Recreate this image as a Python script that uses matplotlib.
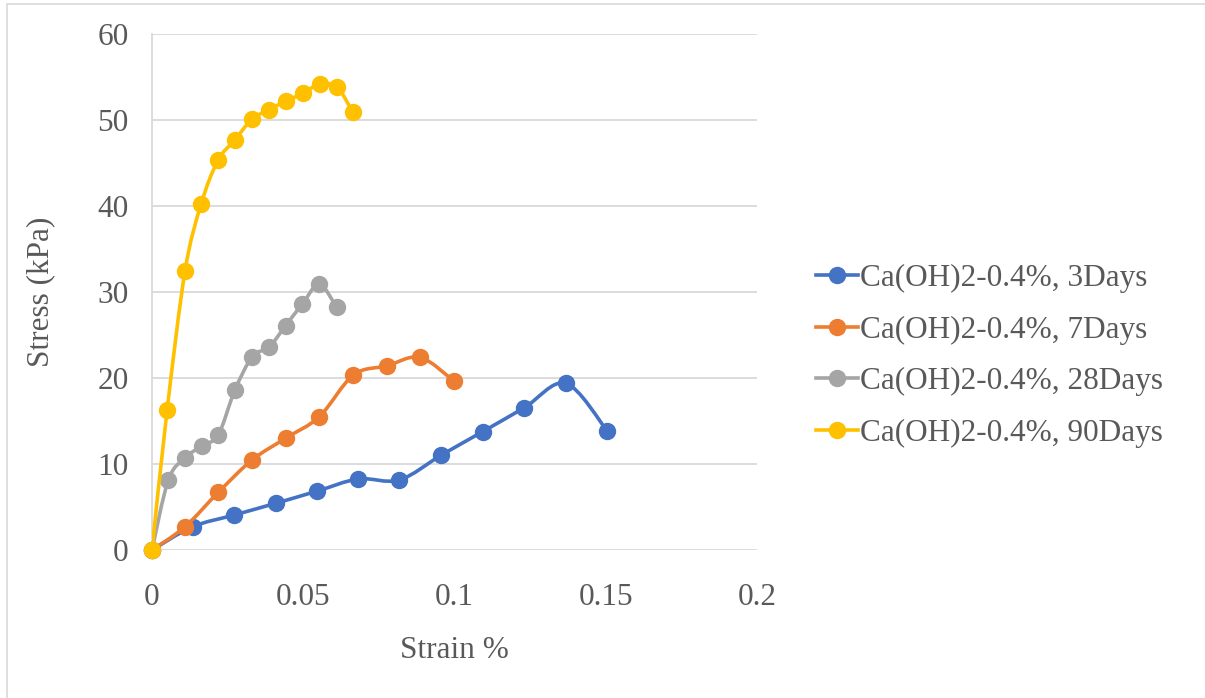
import numpy as np
import matplotlib
matplotlib.use("Agg")
from matplotlib import pyplot as plt
from matplotlib.path import Path
from matplotlib.patches import PathPatch, Rectangle

# strain (%) and stress (kPa) for each curing age
x_3d = [0, 0.0134, 0.0272, 0.0409, 0.0547, 0.0682, 0.0817, 0.0957, 0.1093, 0.1231, 0.1368, 0.1505]
y_3d = [0, 2.7, 4.07, 5.43, 6.86, 8.26, 8.14, 11.05, 13.76, 16.55, 19.38, 13.84]

x_7d = [0, 0.0109, 0.0219, 0.0332, 0.0442, 0.0553, 0.0666, 0.0776, 0.0886, 0.0998]
y_7d = [0, 2.7, 6.7, 10.5, 13.0, 15.5, 20.35, 21.4, 22.4, 19.65]

x_28d = [0, 0.0054, 0.0109, 0.0164, 0.0219, 0.0274, 0.0332, 0.0387, 0.0442, 0.0497, 0.0553, 0.0611]
y_28d = [0, 8.14, 10.7, 12.1, 13.4, 18.6, 22.5, 23.6, 26.1, 28.6, 30.9, 28.2]

x_90d = [0, 0.0050, 0.0109, 0.0162, 0.0218, 0.0274, 0.0331, 0.0387, 0.0443, 0.0499, 0.0555, 0.0612, 0.0664]
y_90d = [0, 16.3, 32.4, 40.2, 45.3, 47.7, 50.1, 51.2, 52.2, 53.1, 54.2, 53.8, 50.9]

labels = ["Ca(OH)2-0.4%, 3Days", "Ca(OH)2-0.4%, 7Days",
          "Ca(OH)2-0.4%, 28Days", "Ca(OH)2-0.4%, 90Days"]
colors = ["#4472C4", "#ED7D31", "#A5A5A5", "#FFC000"]

plt.rcParams['font.family'] = ['Liberation Serif', 'DejaVu Serif']
txt = "#595959"
fs = 22.5


def smooth_path(xs, ys):
    # excel-like smoothed line: catmull-rom as cubic bezier segments
    p = np.column_stack([xs, ys]).astype(float)
    verts = [p[0]]
    codes = [Path.MOVETO]
    n = len(p)
    for i in range(n - 1):
        p0 = p[i - 1] if i > 0 else p[i]
        p1 = p[i]
        p2 = p[i + 1]
        p3 = p[i + 2] if i + 2 < n else p[i + 1]
        c1 = p1 + (p2 - p0) / 6.0
        c2 = p2 - (p3 - p1) / 6.0
        verts += [c1, c2, p2]
        codes += [Path.CURVE4] * 3
    return Path(verts, codes)


fig = plt.figure(figsize=(12.05, 6.98), dpi=100)
fig.patches.append(Rectangle((7 / 1205, -0.1), 1.2, 1.1 - 4 / 698, transform=fig.transFigure,
                             fill=False, edgecolor="#D9D9D9", lw=1.2))
ax = fig.add_axes([152 / 1205, 1 - 550 / 698, 605 / 1205, 516 / 698])

series = [(x_3d, y_3d), (x_7d, y_7d), (x_28d, y_28d), (x_90d, y_90d)]
for k, ((xs, ys), c, lab) in enumerate(zip(series, colors, labels)):
    ax.add_patch(PathPatch(smooth_path(xs, ys), fill=False, edgecolor=c, lw=2.6,
                           capstyle="round", joinstyle="round", zorder=3 + 2 * k))
    ax.plot(xs, ys, linestyle="none", marker="o", markersize=11.5, color=c,
            zorder=4 + 2 * k, clip_on=False)
    ax.plot([], [], color=c, lw=2.6, marker="o", markersize=11.5, label=lab)

ax.set_xlim(0, 0.2)
ax.set_ylim(0, 60)
ax.set_xticks([0, 0.05, 0.1, 0.15, 0.2])
ax.set_xticklabels(["0", "0.05", "0.1", "0.15", "0.2"])
ax.set_yticks(range(0, 61, 10))
ax.grid(axis="y", color="#D9D9D9", lw=1.3)
ax.set_axisbelow(True)
for s in ["top", "right", "bottom"]:
    ax.spines[s].set_visible(False)
ax.spines["left"].set_color("#D9D9D9")
ax.spines["left"].set_linewidth(1.3)
ax.tick_params(length=0, labelsize=fs, colors=txt, pad=17)
ax.tick_params(axis="x", pad=24)
ax.set_xlabel("Strain %", fontsize=fs, color=txt, labelpad=17)
ax.set_ylabel("Stress (kPa)", fontsize=fs, color=txt, labelpad=30)

leg = fig.legend(loc="center left", bbox_to_anchor=(788 / 1205, 0.49), frameon=False,
                 fontsize=fs, labelcolor=txt, handlelength=1.35, handletextpad=0.05,
                 labelspacing=0.72)

fig.savefig("out.png", dpi=100)
